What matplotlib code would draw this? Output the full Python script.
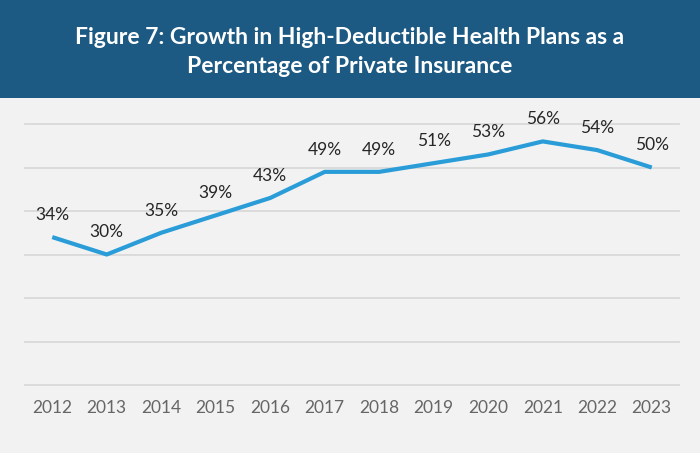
import matplotlib.pyplot as plt
from matplotlib.patches import Rectangle

years = [2012, 2013, 2014, 2015, 2016, 2017, 2018, 2019, 2020, 2021, 2022, 2023]
hdhp_share = [34, 30, 35, 39, 43, 49, 49, 51, 53, 56, 54, 50]

TITLE = "Figure 7: Growth in High-Deductible Health Plans as a\nPercentage of Private Insurance"
HEADER = "#1d5a83"
BG = "#f2f2f2"
LINE = "#2a9dd8"

plt.rcParams['font.family'] = ['Lato', 'DejaVu Sans']

fig = plt.figure(figsize=(7, 4.53), dpi=100)
fig.patch.set_facecolor(BG)

# header band
fig.patches.append(Rectangle((0, 1 - 98 / 453), 1, 98 / 453, transform=fig.transFigure,
                             facecolor=HEADER, edgecolor='none', zorder=0))
fig.text(0.5, 1 - 52 / 453, TITLE, ha='center', va='center', color='white',
         fontsize=16.5, fontweight='bold', linespacing=1.5)

ax = fig.add_axes([25 / 700, 68 / 453, 654 / 700, 261 / 453])
ax.set_facecolor(BG)
x = list(range(len(years)))
ax.plot(x, hdhp_share, color=LINE, lw=3, solid_capstyle='butt', zorder=3)

for xi, v in zip(x, hdhp_share):
    ax.annotate(f"{v}%", (xi, v), xytext=(0, 16), textcoords='offset points',
                ha='center', va='center', fontsize=12.5, color='#262626')

ax.set_xlim(-0.5, len(years) - 0.5)
ax.set_ylim(0, 60)
ax.set_xticks(x)
ax.set_xticklabels([str(y) for y in years], fontsize=12.5, color='#666666')
ax.set_yticks(range(0, 61, 10))
ax.set_yticklabels([])
ax.tick_params(length=0, pad=11)
ax.grid(axis='y', color='#d9d9d9', lw=1.3)
for gl in ax.get_ygridlines():
    gl.set_clip_on(False)
for s in ax.spines.values():
    s.set_visible(False)

fig.savefig("out.png", dpi=100, facecolor=BG)
